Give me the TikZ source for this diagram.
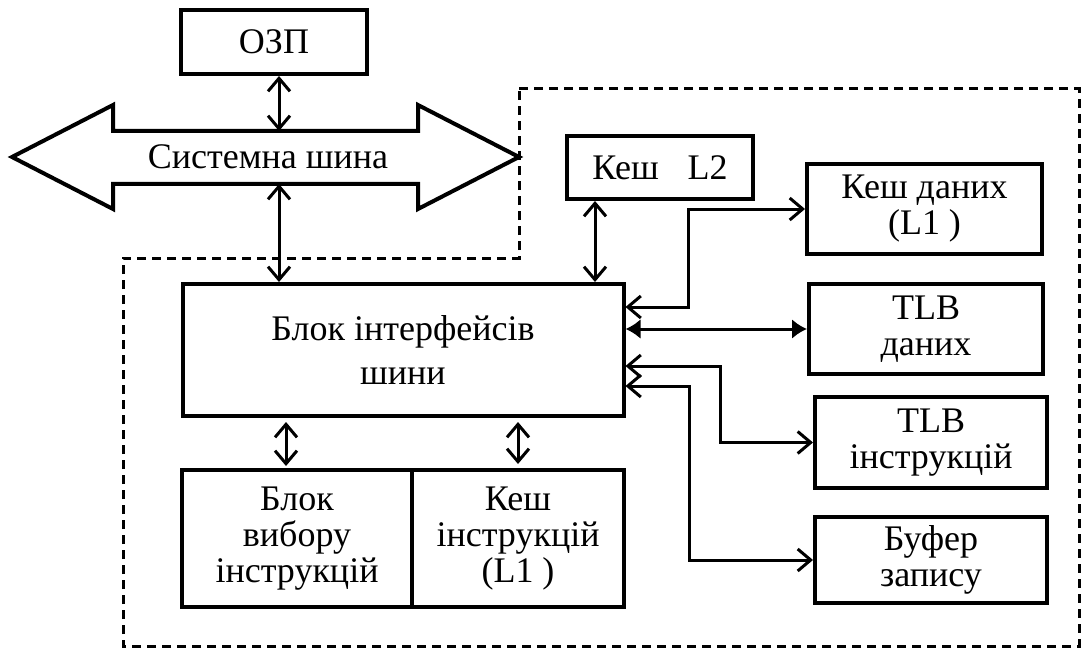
\documentclass[tikz,border=0pt]{standalone}
\usepackage{fontspec}
\setmainfont{Liberation Serif}
\usetikzlibrary{arrows.meta}
\begin{document}
\begin{tikzpicture}[x=1pt,y=-1pt,
  box/.style={draw, line width=4pt, align=center, inner sep=0pt,
    font=\fontsize{36}{36}\selectfont},
  label/.style={align=center, inner sep=0pt, font=\fontsize{36}{44}\selectfont},
  barb/.tip={Straight Barb[length=13pt,width=22pt]},
  link/.style={line width=3pt, barb-barb},
  solidlink/.style={line width=3pt, {Latex[length=15pt,width=20pt]}-{Latex[length=15pt,width=20pt]}},
  frame/.style={line width=3pt, dash pattern=on 9pt off 6pt}]
\useasboundingbox (0,0) rectangle (1082,650);

% processor boundary
\draw[frame] (519,89) -- (1079,89) -- (1079,646) -- (123,646) -- (123,258) -- (519,258) -- cycle;

% memory and system bus
\node[box, minimum width=186pt, minimum height=64pt] (ozp) at (274,42) {ОЗП};
\draw[line width=4pt, line join=miter, fill=white]
  (12,157) -- (113,105) -- (113,131) -- (418,131) -- (418,105) -- (519,157)
  -- (418,209) -- (418,184) -- (113,184) -- (113,209) -- cycle;
\node[label] (bus) at (268,157) {Системна шина};
\coordinate (busN) at (279,131);
\coordinate (busS) at (279,184);

% processor units
\node[box, font=\fontsize{36}{44}\selectfont, minimum width=441pt, minimum height=132pt] (bi) at (403,350)
  {Блок інтерфейсів\\шини};
\node[box, minimum width=186pt, minimum height=63pt] (l2) at (660,167.5) {Кеш\hspace{0.8em}L2};
\node[box, minimum width=235pt, minimum height=90pt] (kd) at (924.5,209) {Кеш даних\\(L1 )};
\node[box, minimum width=234pt, minimum height=90pt] (tlbd) at (926,329) {TLB\\даних};
\node[box, minimum width=232pt, minimum height=91pt] (tlbi) at (931,442.5) {TLB\\інструкцій};
\node[box, minimum width=232pt, minimum height=86pt] (buf) at (931,560) {Буфер\\запису};
\node[box, minimum width=230pt, minimum height=137pt] (lb) at (297,538.5) {Блок\\вибору\\інструкцій};
\node[box, minimum width=212pt, minimum height=137pt] (ki) at (518,538.5) {Кеш\\інструкцій\\(L1 )};

% connections
\draw[link] (ozp.south -| busN) -- (busN);
\draw[link] (busS) -- (busS |- bi.north);
\coordinate (l2x) at (595,199);
\draw[link] (l2.south -| l2x) -- (l2x |- bi.north);

\coordinate (j1) at (688,307);
\draw[link] (bi.east |- j1) -- (j1) |- (kd.west);
\draw[solidlink] (bi.east |- tlbd.west) -- (tlbd.west);
\coordinate (j2) at (720,366);
\draw[link] (bi.east |- j2) -- (j2) |- (tlbi.west);
\coordinate (j3) at (689,386);
\draw[link] (bi.east |- j3) -- (j3) |- (buf.west);

\coordinate (lbx) at (286,470);
\draw[link, shorten <=4pt, shorten >=4pt] (bi.south -| lbx) -- (lbx);
\draw[link, shorten <=4pt, shorten >=4pt] (bi.south -| ki.north) -- (ki.north);
\end{tikzpicture}
\end{document}
